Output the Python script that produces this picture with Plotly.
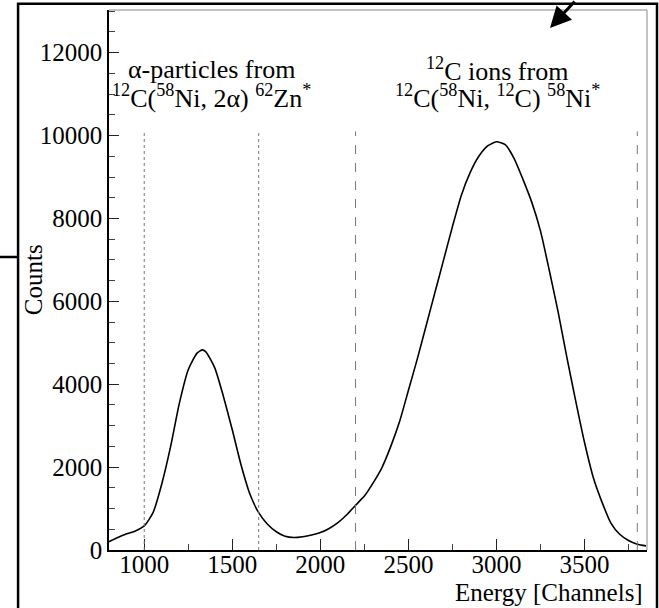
import plotly.graph_objects as go

# Spectrum (channel, counts)
channels = [800, 850, 900, 950, 1000, 1050, 1100, 1150, 1200, 1250, 1300, 1330, 1350, 1400,
            1450, 1500, 1550, 1600, 1650, 1700, 1750, 1800, 1850, 1900, 1950, 2000, 2050,
            2100, 2150, 2200, 2250, 2300, 2350, 2400, 2450, 2500, 2550, 2600, 2650, 2700,
            2750, 2800, 2850, 2900, 2950, 3000, 3050, 3100, 3150, 3200, 3250, 3300, 3350,
            3400, 3450, 3500, 3550, 3600, 3650, 3700, 3750, 3800, 3850]
counts = [200, 300, 390, 460, 580, 900, 1600, 2500, 3550, 4350, 4750, 4830, 4780, 4400,
          3700, 2900, 2050, 1350, 900, 620, 440, 330, 300, 320, 360, 420, 520,
          660, 850, 1080, 1300, 1620, 1990, 2500, 3100, 3850, 4600, 5400, 6200, 7000,
          7800, 8550, 9100, 9500, 9750, 9850, 9780, 9450, 8950, 8400, 7700, 6750, 5750,
          4650, 3600, 2600, 1750, 1150, 650, 380, 230, 140, 100]

gate_lines = [1000, 1650, 2200, 3800]
gate_dash = ["dot", "dot", "dash", "dash"]
gate_top = 10100

x_ticks = [1000, 1500, 2000, 2500, 3000, 3500]
x_labels = ["1000", "1500", "2000", "2500", "3000", "3500"]
y_ticks = [0, 2000, 4000, 6000, 8000, 10000, 12000]
y_labels = ["0", "2000", "4000", "6000", "8000", "10000", "12000"]

FONT = "Liberation Serif, Times New Roman, serif"

fig = go.Figure()
fig.add_trace(go.Scatter(x=channels, y=counts, mode="lines",
                         line=dict(color="black", width=1.6, shape="spline", smoothing=0.6),
                         showlegend=False, hoverinfo="skip"))

shapes = []
for gx, gd in zip(gate_lines, gate_dash):
    shapes.append(dict(type="line", xref="x", yref="y", x0=gx, x1=gx, y0=0, y1=gate_top,
                       line=dict(color="#777777", width=1, dash=gd)))
# plot frame top / right (thin grey)
shapes.append(dict(type="line", xref="paper", yref="paper", x0=0, x1=1, y0=1, y1=1,
                   line=dict(color="#888888", width=1)))
shapes.append(dict(type="line", xref="paper", yref="paper", x0=1, x1=1, y0=0, y1=1,
                   line=dict(color="#888888", width=1)))
# outer black frame
shapes.append(dict(type="rect", xref="paper", yref="paper", x0=-0.169, x1=1.0186,
                   y0=-0.14, y1=1.0115, line=dict(color="black", width=2.5)))
# small line on the left
shapes.append(dict(type="line", xref="paper", yref="paper", x0=-0.25, x1=-0.169,
                   y0=0.5426, y1=0.5426, line=dict(color="black", width=2.5)))

annotations = [
    dict(x=1381, y=11600, xref="x", yref="y", text="α-particles from", showarrow=False,
         font=dict(family=FONT, size=26, color="black"), xanchor="center", yanchor="middle"),
    dict(x=1381, y=10950, xref="x", yref="y",
         text="<sup>12</sup>C(<sup>58</sup>Ni, 2α) <sup>62</sup>Zn<sup>*</sup>", showarrow=False,
         font=dict(family=FONT, size=26, color="black"), xanchor="center", yanchor="middle"),
    dict(x=3006, y=11600, xref="x", yref="y", text="<sup>12</sup>C ions from", showarrow=False,
         font=dict(family=FONT, size=26, color="black"), xanchor="center", yanchor="middle"),
    dict(x=3006, y=10950, xref="x", yref="y",
         text="<sup>12</sup>C(<sup>58</sup>Ni, <sup>12</sup>C) <sup>58</sup>Ni<sup>*</sup>",
         showarrow=False,
         font=dict(family=FONT, size=26, color="black"), xanchor="center", yanchor="middle"),
    dict(x=-0.141, y=0.5, xref="paper", yref="paper", text="Counts", textangle=-90,
         showarrow=False, font=dict(family=FONT, size=25, color="black"),
         xanchor="center", yanchor="middle"),
    dict(x=0.9963, y=-0.0796, xref="paper", yref="paper", text="Energy [Channels]",
         showarrow=False, font=dict(family=FONT, size=25, color="black"),
         xanchor="right", yanchor="middle"),
    dict(x=0.8197, y=0.9667, xref="paper", yref="paper", text="", showarrow=True,
         ax=26, ay=-32, arrowhead=2, arrowsize=1.4, arrowwidth=3, arrowcolor="black"),
]

fig.update_layout(
    width=659, height=608,
    margin=dict(l=109, r=12, t=10, b=58),
    paper_bgcolor="white", plot_bgcolor="white",
    shapes=shapes, annotations=annotations,
    xaxis=dict(range=[800, 3855], tickmode="array", tickvals=x_ticks, ticktext=x_labels,
               ticks="inside", ticklen=11, tickwidth=1, tickcolor="#222222",
               ticklabelstandoff=-9,
               showline=True, linecolor="black", linewidth=1.5, showgrid=False,
               zeroline=False,
               minor=dict(dtick=250, tick0=1000, ticks="inside", ticklen=6,
                          tickcolor="#444444", showgrid=False),
               tickfont=dict(family=FONT, size=25, color="black")),
    yaxis=dict(range=[0, 13030], tickmode="array", tickvals=y_ticks, ticktext=y_labels,
               ticks="inside", ticklen=10, tickwidth=1, tickcolor="#222222",
               showline=True, linecolor="black", linewidth=1.5, showgrid=False,
               zeroline=False,
               minor=dict(dtick=500, tick0=0, ticks="inside", ticklen=6,
                          tickcolor="#444444", showgrid=False),
               tickfont=dict(family=FONT, size=25, color="black")),
)

fig.write_html("out.html")
